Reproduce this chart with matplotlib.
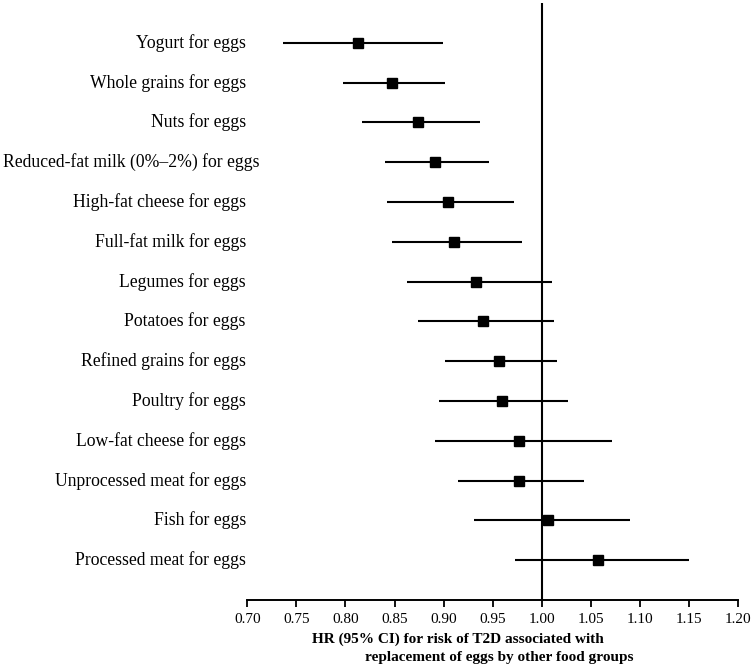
import numpy as np
import matplotlib
matplotlib.use("Agg")
import matplotlib.pyplot as plt
import matplotlib.transforms as mtrans

plt.rcParams['font.family'] = ['Liberation Serif', 'DejaVu Serif']

# substitutions, top to bottom
labels = ["Yogurt for eggs", "Whole grains for eggs", "Nuts for eggs",
          "Reduced-fat milk (0%\u20132%) for eggs", "High-fat cheese for eggs",
          "Full-fat milk for eggs", "Legumes for eggs", "Potatoes for eggs",
          "Refined grains for eggs", "Poultry for eggs", "Low-fat cheese for eggs",
          "Unprocessed meat for eggs", "Fish for eggs", "Processed meat for eggs"]
hr = [0.813, 0.847, 0.874, 0.891, 0.904, 0.910, 0.933, 0.940,
      0.956, 0.959, 0.977, 0.977, 1.006, 1.057]
lo = [0.736, 0.797, 0.817, 0.840, 0.842, 0.847, 0.863, 0.874,
      0.901, 0.895, 0.891, 0.915, 0.931, 0.973]
hi = [0.899, 0.901, 0.937, 0.946, 0.972, 0.980, 1.010, 1.012,
      1.015, 1.027, 1.071, 1.043, 1.090, 1.150]
xticks = [0.70, 0.75, 0.80, 0.85, 0.90, 0.95, 1.00, 1.05, 1.10, 1.15, 1.20]

fig = plt.figure(figsize=(7.56, 6.69), dpi=100)
ax = fig.add_axes([0.3271, 0.1031, 0.6495, 0.8924])

n = len(labels)
y = np.arange(n, 0, -1)

ax.hlines(y, lo, hi, color='black', linewidth=1.5)
ax.plot(hr, y, 's', color='black', markersize=7.8, linestyle='none')
ax.axvline(1.0, color='black', linewidth=1.5)

ax.set_xlim(0.70, 1.20)
ax.set_ylim(0, 15)
ax.set_xticks(xticks)
ax.set_xticklabels([f"{v:.2f}" for v in xticks], fontsize=11)
ax.tick_params(axis='x', direction='out', length=5, width=1.3, pad=4)
ax.set_yticks([])
for s in ['left', 'right', 'top']:
    ax.spines[s].set_visible(False)
ax.spines['bottom'].set_linewidth(1.4)

# row labels drawn as text so the long one can stick out past the axis edge
trans = mtrans.blended_transform_factory(ax.transAxes, ax.transData)
for yi, lab in zip(y, labels):
    xpos = 0.024 if lab.startswith("Reduced") else -0.003
    ax.text(xpos, yi, lab, transform=trans, ha='right', va='center', fontsize=12.7)

fig.text(312 / 756, 1 - 639 / 669, "HR (95% CI) for risk of T2D associated with",
         ha='left', va='center', fontsize=11, fontweight='bold')
fig.text(499 / 756, 1 - 657 / 669, "replacement of eggs by other food groups",
         ha='center', va='center', fontsize=11, fontweight='bold')

fig.savefig("out.png", dpi=100)
